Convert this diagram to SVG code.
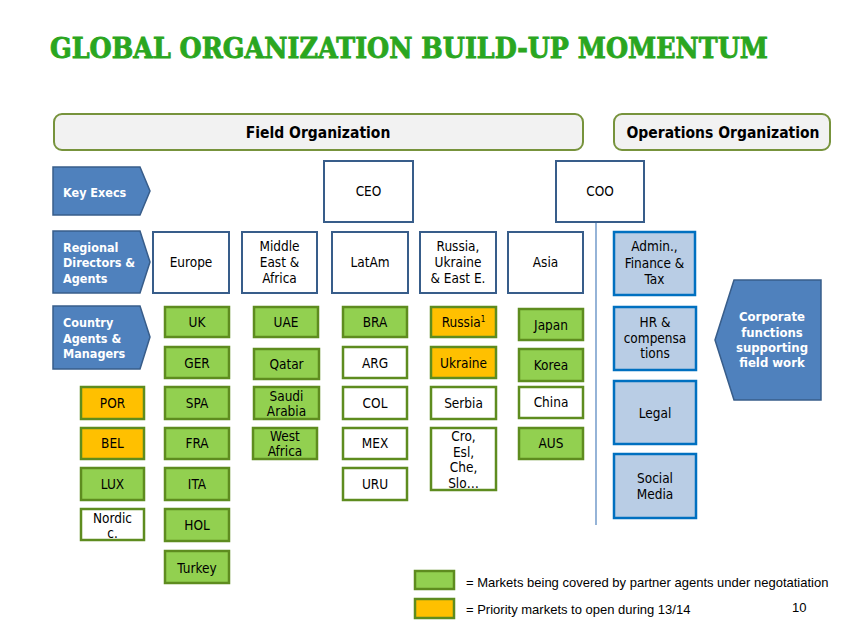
<svg xmlns="http://www.w3.org/2000/svg" width="856" height="642" viewBox="0 0 856 642">
<style>
text{font-family:"DejaVu Sans Condensed","DejaVu Sans",sans-serif;font-size:13.5px;fill:#000;text-anchor:middle}
.title{font-family:"DejaVu Serif","Liberation Serif",serif;font-weight:bold;font-size:28px;fill:#2AA620;stroke:#2AA620;stroke-width:0.9;text-anchor:start}
.hdr{fill:#F2F2F2;stroke:#77933C;stroke-width:2}
.hdrt{font-weight:bold;font-size:15.5px}
.arrow{fill:#4F81BD;stroke:#385D8A;stroke-width:1.5}
.at{fill:#fff;font-weight:bold;text-anchor:start;font-size:12.5px}
.ct{fill:#fff;font-weight:bold;font-size:13px}
.reg{fill:#fff;stroke:#385D8A;stroke-width:2}
.grn{fill:#92D050;stroke:#5E8C1F;stroke-width:2.5}
.org{fill:#FFC000;stroke:#5E8C1F;stroke-width:2.5}
.wht{fill:#fff;stroke:#5E8C1F;stroke-width:2.5}
.ops{fill:#B9CDE5;stroke:#0070C0;stroke-width:2.5}
.leg{font-family:"Liberation Sans",Arial,sans-serif;font-size:13px;text-anchor:start}
</style>
<text class="title" x="50" y="58" textLength="718" lengthAdjust="spacingAndGlyphs">GLOBAL ORGANIZATION BUILD-UP MOMENTUM</text>

<g id="field-org"><rect class="hdr" x="54" y="114" width="529" height="36" rx="8"/><text class="hdrt" x="318" y="138">Field Organization</text></g>
<g id="ops-org"><rect class="hdr" x="614" y="114" width="216" height="36" rx="8"/><text class="hdrt" x="723" y="138">Operations Organization</text></g>

<g id="key-execs"><polygon class="arrow" points="53,167 140,167 150,191 140,215 53,215"/><text class="at" x="63" y="197">Key Execs</text></g>
<g id="regional"><polygon class="arrow" points="53,231 140,231 150,262 140,293 53,293"/><text class="at" x="63" y="252">Regional</text><text class="at" x="63" y="267">Directors &amp;</text><text class="at" x="63" y="283">Agents</text></g>
<g id="country"><polygon class="arrow" points="53,306 140,306 150,337 140,369 53,369"/><text class="at" x="63" y="327">Country</text><text class="at" x="63" y="343">Agents &amp;</text><text class="at" x="63" y="358">Managers</text></g>

<g id="connectors"><line x1="596" y1="222" x2="596" y2="525" stroke="#4F81BD" stroke-width="1.2"/></g>

<g id="ceo"><rect class="reg" x="324" y="161" width="89" height="61"/><text x="368.5" y="196">CEO</text></g>
<g id="coo"><rect class="reg" x="556" y="161" width="88" height="61"/><text x="600" y="196">COO</text></g>

<g id="europe"><rect class="reg" x="153" y="232" width="76" height="61"/><text x="191" y="267">Europe</text></g>
<g id="mea"><rect class="reg" x="242" y="232" width="75" height="61"/><text x="279.5" y="251">Middle</text><text x="279.5" y="267">East &amp;</text><text x="279.5" y="283">Africa</text></g>
<g id="latam"><rect class="reg" x="332" y="232" width="76" height="61"/><text x="370" y="267">LatAm</text></g>
<g id="russia-reg"><rect class="reg" x="420" y="232" width="76" height="61"/><text x="458" y="251">Russia,</text><text x="458" y="267">Ukraine</text><text x="458" y="283">&amp; East E.</text></g>
<g id="asia"><rect class="reg" x="508" y="232" width="75" height="61"/><text x="545.5" y="267">Asia</text></g>
<g id="admin"><rect class="ops" x="614" y="232" width="81" height="63"/><text x="654.5" y="251">Admin.,</text><text x="654.5" y="268">Finance &amp;</text><text x="654.5" y="284">Tax</text></g>

<g id="uk"><rect class="grn" x="165" y="307" width="64" height="30"/><text x="197" y="327">UK</text></g>
<g id="ger"><rect class="grn" x="165" y="347" width="64" height="31"/><text x="197" y="367.5">GER</text></g>
<g id="spa"><rect class="grn" x="165" y="387" width="64" height="32"/><text x="197" y="408">SPA</text></g>
<g id="fra"><rect class="grn" x="165" y="428" width="64" height="31"/><text x="197" y="448">FRA</text></g>
<g id="ita"><rect class="grn" x="165" y="468" width="64" height="32"/><text x="197" y="489">ITA</text></g>
<g id="hol"><rect class="grn" x="165" y="509" width="64" height="32"/><text x="197" y="530">HOL</text></g>
<g id="turkey"><rect class="grn" x="165" y="551" width="64" height="32"/><text x="197" y="573">Turkey</text></g>

<g id="por"><rect class="org" x="81" y="387" width="63" height="32"/><text x="112.5" y="408">POR</text></g>
<g id="bel"><rect class="org" x="81" y="428" width="63" height="31"/><text x="112.5" y="448">BEL</text></g>
<g id="lux"><rect class="grn" x="81" y="468" width="63" height="32"/><text x="112.5" y="489">LUX</text></g>
<g id="nordic"><rect class="wht" x="81" y="509" width="63" height="31"/><text x="112.5" y="523">Nordic</text><text x="112.5" y="538">c.</text></g>

<g id="uae"><rect class="grn" x="254" y="307" width="64" height="30"/><text x="286" y="327">UAE</text></g>
<g id="qatar"><rect class="grn" x="254" y="349" width="65" height="30"/><text x="286.5" y="369">Qatar</text></g>
<g id="saudi"><rect class="grn" x="254" y="387" width="65" height="32"/><text x="286.5" y="401">Saudi</text><text x="286.5" y="416">Arabia</text></g>
<g id="west-africa"><rect class="grn" x="253" y="428" width="64" height="31"/><text x="285" y="441">West</text><text x="285" y="456">Africa</text></g>

<g id="bra"><rect class="grn" x="343" y="307" width="64" height="30"/><text x="375" y="327">BRA</text></g>
<g id="arg"><rect class="wht" x="343" y="347" width="64" height="31"/><text x="375" y="367.5">ARG</text></g>
<g id="col"><rect class="wht" x="343" y="387" width="64" height="32"/><text x="375" y="408">COL</text></g>
<g id="mex"><rect class="wht" x="343" y="428" width="64" height="31"/><text x="375" y="448">MEX</text></g>
<g id="uru"><rect class="wht" x="343" y="468" width="64" height="32"/><text x="375" y="489">URU</text></g>

<g id="russia"><rect class="org" x="431" y="307" width="65" height="30"/><text x="463.5" y="327">Russia<tspan font-size="8" dy="-5">1</tspan></text></g>
<g id="ukraine"><rect class="org" x="431" y="347" width="65" height="31"/><text x="463.5" y="367.5">Ukraine</text></g>
<g id="serbia"><rect class="wht" x="431" y="387" width="65" height="32"/><text x="463.5" y="408">Serbia</text></g>
<g id="cro"><rect class="wht" x="431" y="428" width="65" height="62"/><text x="463.5" y="441">Cro,</text><text x="463.5" y="457">Esl,</text><text x="463.5" y="472">Che,</text><text x="463.5" y="488">Slo…</text></g>

<g id="japan"><rect class="grn" x="519" y="309" width="64" height="31"/><text x="551" y="330">Japan</text></g>
<g id="korea"><rect class="grn" x="519" y="349" width="64" height="32"/><text x="551" y="370">Korea</text></g>
<g id="china"><rect class="wht" x="519" y="387" width="64" height="31"/><text x="551" y="407">China</text></g>
<g id="aus"><rect class="grn" x="519" y="428" width="64" height="31"/><text x="551" y="448">AUS</text></g>

<g id="hr"><rect class="ops" x="614" y="307" width="82" height="63"/><text x="655" y="327">HR &amp;</text><text x="655" y="343">compensa</text><text x="655" y="358">tions</text></g>
<g id="legal"><rect class="ops" x="614" y="381" width="82" height="63"/><text x="655" y="418">Legal</text></g>
<g id="social"><rect class="ops" x="614" y="454" width="82" height="64"/><text x="655" y="483">Social</text><text x="655" y="499">Media</text></g>

<g id="corporate"><polygon class="arrow" points="734,280 821,280 821,400 734,400 715,340"/><text class="ct" x="772" y="321">Corporate</text><text class="ct" x="772" y="337">functions</text><text class="ct" x="772" y="352">supporting</text><text class="ct" x="772" y="367">field work</text></g>

<g id="legend">
<rect class="grn" x="415" y="571" width="39" height="18" stroke-width="1.5"/>
<text class="leg" x="466" y="587">= Markets being covered by partner agents under negotatiation</text>
<rect class="org" x="415" y="599" width="39" height="19" stroke-width="1.5"/>
<text class="leg" x="466" y="614">= Priority markets to open during 13/14</text>
<text class="leg" x="792" y="612" font-size="11">10</text>
</g>
</svg>
